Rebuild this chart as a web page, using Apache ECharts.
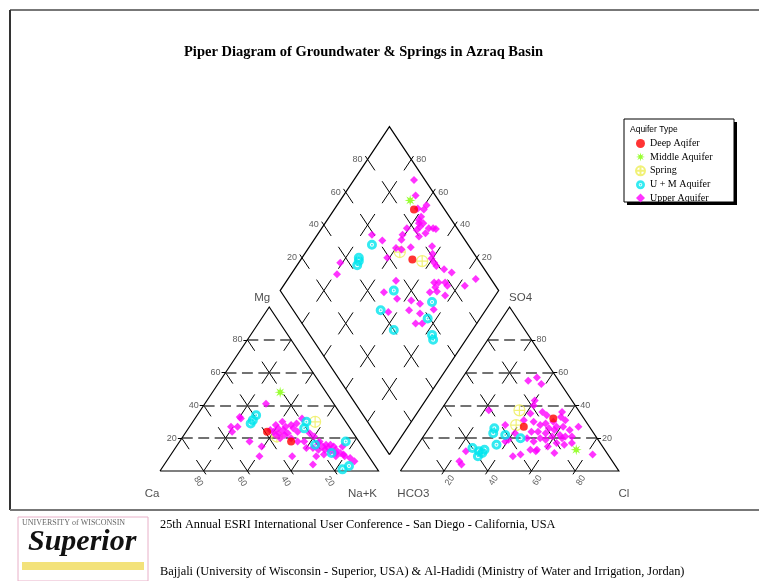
<!DOCTYPE html>
<html>
<head>
<meta charset="utf-8">
<script src="https://cdn.jsdelivr.net/npm/echarts@6/dist/echarts.min.js"></script>
<style>
  html, body { margin: 0; padding: 0; background: #fff; }
  #chart { width: 759px; height: 581px; }
</style>
</head>
<body>
<div id="chart"></div>
<script>
// ---- data (percent of meq) ----
// cation triangle: [Mg, Na+K]
var catDeep   = [[24, 37], [18, 51]];
var catMiddle = [[48, 31]];
var catSpring = [[30, 56], [21, 43]];
var catUM     = [[34, 27], [29, 27], [31, 27], [30, 52], [26, 53], [16, 63], [18, 76], [11, 73], [3, 85], [1, 83]];
var catUpper  = [[41, 28], [32, 21], [27, 22], [27, 19], [24, 21], [18, 32], [15, 39], [9, 41], [9, 56], [4, 68],
  [28, 39], [30, 41], [27, 44], [28, 46], [26, 48], [24, 40], [23, 43], [22, 46], [24, 51], [18, 54], [18, 57],
  [32, 49], [29, 48], [23, 57], [25, 38], [22, 42], [21, 60], [17, 64], [15, 67], [13, 69], [10, 70], [14, 70],
  [15, 72], [13, 74], [11, 77], [9, 76], [9, 80], [8, 83], [6, 86], [14, 60], [14, 63], [18, 64], [16, 68],
  [15, 76], [9, 67], [25, 44], [26, 41], [23, 47], [20, 50], [20, 45], [12, 72], [11, 75], [16, 70], [13, 66],
  [10, 79], [33, 20]];

// anion triangle: [SO4, Cl]
var anDeep   = [[32, 54], [27, 43]];
var anMiddle = [[13, 74]];
var anSpring = [[37, 36], [28, 39]];
var anUM     = [[26, 30], [23, 31], [22, 37], [16, 36], [20, 45], [13, 32], [11, 32], [9, 31], [14, 26], [12, 30]];
var anUpper  = [[57, 34], [53, 38], [55, 31], [43, 40], [40, 41], [37, 22], [28, 34], [31, 41], [35, 42], [36, 47],
  [34, 50], [36, 56], [31, 60], [27, 68], [25, 65], [27, 61], [27, 58], [29, 52], [28, 50], [24, 51], [24, 48],
  [20, 48], [18, 52], [20, 54], [23, 55], [21, 59], [17, 63], [20, 64], [16, 67], [11, 65], [21, 65], [21, 68],
  [17, 70], [10, 83], [23, 41], [19, 40], [18, 39], [9, 47], [10, 50], [13, 53], [13, 56], [12, 24], [6, 24],
  [4, 26], [30, 46], [26, 55], [22, 62], [19, 57], [25, 58], [15, 60], [12, 56], [30, 55], [33, 57]];

// diamond: [Ca+Mg, SO4+Cl]
var diaDeep   = [[63.5, 86], [49, 70]];
var diaMiddle = [[68, 87]];
var diaSpring = [[57, 66.5], [44, 74]];
var diaUM     = [[72, 56], [74, 46], [72.5, 43], [73, 45], [48, 52], [48, 40], [36, 40], [27, 66], [24, 59], [17, 56], [15, 55]];
var diaUpper  = [[72.5, 95], [67, 91], [59, 93], [59, 90.5], [58, 87], [58, 85], [55, 86], [55.5, 83.5], [56, 81],
  [51, 87], [47.5, 90], [49, 89], [51, 84], [61, 77], [61, 73], [60, 71], [57, 68], [53.5, 73], [60, 66], [61, 59],
  [75, 59], [68.5, 62], [81, 36], [79, 31], [44, 83], [41.5, 81], [40.5, 79], [38, 79], [36, 79], [31.5, 81.5],
  [27, 84], [14, 93], [17, 86], [32, 73], [30, 75], [30, 72], [27, 78], [25, 78], [28, 71.5], [23, 74], [31, 68],
  [37, 57], [35, 53], [44, 51], [52, 47], [50, 56], [44, 43], [32, 60], [29, 57], [25, 55], [28, 52], [24, 64.5],
  [57, 84], [53, 80], [62, 88]];

var groups = ['Deep Aqifer', 'Middle Aquifer', 'Spring', 'U + M Aquifer', 'Upper Aquifer'];
var gridTicks = [20, 40, 60, 80];

// ---- geometry ----
var OX = 160, OY = 471, SX = 218.5, SY = 164, G = 0.1;
function dx(p) { return p / SX; }
function dy(p) { return -p / SY; }

function catXY(d) { return [d[1] / 100 + d[0] / 200, d[0] / 100]; }
function anXY(d) { return [1 + G + d[1] / 100 + d[0] / 200, d[0] / 100]; }
function diaXY(d) {
  var n = 1 - d[0] / 100, p = d[1] / 100;
  return [(n + 1 + G + p) / 2, 1 + G + p - n];
}
function pts(c, a, d) {
  return c.map(catXY).concat(a.map(anXY)).concat(d.map(diaXY));
}

// each grid cell edge starts and ends with a dash, so crossings look like X marks
function pxLen(a, b) { return Math.hypot((b[0] - a[0]) * SX, (b[1] - a[1]) * SY); }
function seg(a, b, color, width, nDash, gap) {
  var L = pxLen(a, b);
  var d = (L - (nDash - 1) * gap) / nDash;
  return { coords: [a, b], lineStyle: { color: color, width: width, type: [d, gap], opacity: 1 } };
}

var gridSegs = [];
function triGrid(ox) {
  var P = function (i, j) { return [ox + (i + j / 2) * 0.2, j * 0.2]; };
  for (var j = 0; j <= 5; j++) {
    for (var i = 0; i + j <= 5; i++) {
      if (j >= 1 && i + 1 + j <= 5) gridSegs.push(seg(P(i, j), P(i + 1, j), '#444', 1.5, 3, 5.5));
      if (i >= 1 && i + j + 1 <= 5) gridSegs.push(seg(P(i, j), P(i, j + 1), '#000', 1, 2, 13));
      if (i + j <= 3) gridSegs.push(seg(P(i + 1, j), P(i, j + 1), '#000', 1, 2, 13));
    }
  }
}
triGrid(0);
triGrid(1 + G);
var B = [1 + G / 2, G];
function D(a, b) { return [B[0] + (b - a) * 0.1, B[1] + (a + b) * 0.2]; }
for (var a = 0; a < 5; a++) {
  for (var b = 0; b < 5; b++) {
    if (a >= 1) gridSegs.push(seg(D(a, b), D(a, b + 1), '#000', 1, 2, 13));
    if (b >= 1) gridSegs.push(seg(D(a, b), D(a + 1, b), '#000', 1, 2, 13));
  }
}

var outlines = [
  { coords: [[0, 0], [1, 0], [0.5, 1], [0, 0]] },
  { coords: [[1 + G, 0], [2 + G, 0], [1.5 + G, 1], [1 + G, 0]] },
  { coords: [B, D(0, 5), D(5, 5), D(5, 0), B] }
];

// small ticks (4 px) pointing outward, and their labels
var ticks = [], tickLabels = [];
function unit(vx, vy, len) { // vx,vy in px, returns data vector of len px
  var m = Math.hypot(vx, vy);
  return [dx(vx / m * len), dy(vy / m * len)];
}
function addTick(p, vpx, vpy, text, label) {
  var u = unit(vpx, vpy, 4);
  ticks.push({ coords: [p, [p[0] + u[0], p[1] + u[1]]] });
  label.formatter = text;
  tickLabels.push({ value: p, label: label });
}
gridTicks.forEach(function (t) {
  var f = t / 100;
  addTick([f / 2, f], -1, 0, String(t), { position: 'left', distance: 5 });
  addTick([f, 0], 0.55, 0.82, String(100 - t), { position: 'inside', offset: [6, 10], rotate: -58 });
  addTick([1 + G + f, 0], -0.55, 0.82, String(t), { position: 'inside', offset: [-5, 10], rotate: 58 });
  addTick([2 + G - f / 2, f], 1, 0, String(t), { position: 'right', distance: 5 });
  addTick([0.5 + G / 2 + f / 2, 1 + G + f], -0.55, -0.82, String(t), { position: 'left', distance: 5 });
  addTick([1 + G / 2 + f / 2, 2 + G - f], 0.55, -0.82, String(100 - t), { position: 'right', distance: 5 });
});

var cornerLabels = [
  { value: [0.5, 1], label: { formatter: 'Mg', offset: [-7, -9] } },
  { value: [0, 0], label: { formatter: 'Ca', offset: [-8, 23] } },
  { value: [1, 0], label: { formatter: 'Na+K', offset: [-16, 23] } },
  { value: [1 + G, 0], label: { formatter: 'HCO3', offset: [13, 23] } },
  { value: [2 + G, 0], label: { formatter: 'Cl', offset: [5, 23] } },
  { value: [1.5 + G, 1], label: { formatter: 'SO4', offset: [11, -9] } }
];

// ---- symbols ----
var star = 'path://';
for (var k = 0; k < 16; k++) {
  var r = k % 2 ? 4 : 10, ang = k * Math.PI / 8 - Math.PI / 2;
  star += (k ? 'L' : 'M') + (r * Math.cos(ang)).toFixed(2) + ',' + (r * Math.sin(ang)).toFixed(2) + ' ';
}
star += 'Z';
var crossCircle = 'path://M10,0 A10,10 0 1,1 -10,0 A10,10 0 1,1 10,0 Z M0,-10 L0,10 M-10,0 L10,0';
var ring = 'path://M0,-10 A10,10 0 1,1 0,10 A10,10 0 1,1 0,-10 Z M0,-4 A4,4 0 1,0 0,4 A4,4 0 1,0 0,-4 Z M0,-2 A2,2 0 1,1 0,2 A2,2 0 1,1 0,-2 Z';

var chart = echarts.init(document.getElementById('chart'));
chart.setOption({
  animation: false,
  backgroundColor: '#fff',
  grid: { left: 0, right: 0, top: 0, bottom: 0 },
  xAxis: { type: 'value', min: -OX / SX, max: (759 - OX) / SX, show: false },
  yAxis: { type: 'value', min: (OY - 581) / SY, max: OY / SY, show: false },
  legend: {
    data: groups, orient: 'vertical', left: 635, top: 138.5, padding: 0,
    itemWidth: 9, itemHeight: 9, itemGap: 3.4,
    textStyle: { fontFamily: 'Liberation Serif', fontSize: 10, color: '#000', lineHeight: 10 }
  },
  graphic: [
    { type: 'line', shape: { x1: 10, y1: 10, x2: 759, y2: 10 }, style: { stroke: '#777', lineWidth: 2 } },
    { type: 'line', shape: { x1: 10, y1: 10, x2: 10, y2: 510 }, style: { stroke: '#333', lineWidth: 2 } },
    { type: 'line', shape: { x1: 10, y1: 510, x2: 759, y2: 510 }, style: { stroke: '#777', lineWidth: 2 } },
    { type: 'text', x: 363.5, y: 52, style: { text: 'Piper Diagram of Groundwater & Springs in Azraq Basin',
      font: 'bold 14.5px "Liberation Serif"', fill: '#000', align: 'center', verticalAlign: 'middle' } },
    { type: 'rect', shape: { x: 627, y: 122, width: 110, height: 83 }, style: { fill: '#000' } },
    { type: 'rect', shape: { x: 624, y: 119, width: 110, height: 83 }, style: { fill: '#fff', stroke: '#000', lineWidth: 1 } },
    { type: 'text', x: 630, y: 125, style: { text: 'Aquifer Type', font: '8.5px "Liberation Sans"', fill: '#000' } },
    // logo
    { type: 'rect', shape: { x: 18, y: 517, width: 130, height: 64 }, style: { fill: '#fff', stroke: '#e8b0c8', lineWidth: 1 } },
    { type: 'rect', shape: { x: 22, y: 562, width: 122, height: 8 }, style: { fill: '#f3e27a' } },
    { type: 'text', x: 22, y: 519, style: { text: 'UNIVERSITY of WISCONSIN', font: '8px "Liberation Serif"', fill: '#666' } },
    { type: 'text', x: 28, y: 527, style: { text: 'Superior', font: 'italic bold 30px "Liberation Serif"', fill: '#111' } },
    // footer
    { type: 'text', x: 160, y: 519, style: { text: '25th Annual ESRI International User Conference - San Diego - California, USA',
      font: '12.3px "Liberation Serif"', fill: '#000' } },
    { type: 'text', x: 160, y: 566, style: { text: 'Bajjali (University of Wisconsin - Superior, USA) & Al-Hadidi (Ministry of Water and Irrigation, Jordan)',
      font: '12.4px "Liberation Serif"', fill: '#000' } }
  ],
  series: [
    { type: 'lines', coordinateSystem: 'cartesian2d', silent: true, data: gridSegs, z: 1 },
    { type: 'lines', coordinateSystem: 'cartesian2d', silent: true, polyline: true, data: outlines,
      lineStyle: { color: '#000', width: 1.2, type: 'solid', opacity: 1 }, z: 1 },
    { type: 'lines', coordinateSystem: 'cartesian2d', silent: true, data: ticks,
      lineStyle: { color: '#000', width: 1, type: 'solid', opacity: 1 }, z: 1 },
    { type: 'scatter', silent: true, symbolSize: 0, data: tickLabels, z: 1,
      label: { show: true, fontFamily: 'Liberation Sans', fontSize: 9, color: '#333' } },
    { type: 'scatter', silent: true, symbolSize: 0, data: cornerLabels, z: 1,
      label: { show: true, position: 'inside', fontFamily: 'Liberation Sans', fontSize: 11.5, color: '#222' } },
    { name: 'Spring', type: 'scatter', symbol: crossCircle, symbolSize: 11, z: 3,
      itemStyle: { color: 'rgba(255,255,255,0)', borderColor: '#eeee55', borderWidth: 1.2 },
      data: pts(catSpring, anSpring, diaSpring) },
    { name: 'Upper Aquifer', type: 'scatter', symbol: 'diamond', symbolSize: 8, z: 3,
      itemStyle: { color: '#ff00ff' }, data: pts(catUpper, anUpper, diaUpper) },
    { name: 'U + M Aquifer', type: 'scatter', symbol: ring, symbolSize: 10, z: 3,
      itemStyle: { color: '#00e5ee' }, data: pts(catUM, anUM, diaUM) },
    { name: 'Middle Aquifer', type: 'scatter', symbol: star, symbolSize: 11, z: 3,
      itemStyle: { color: '#80ff00' }, data: pts(catMiddle, anMiddle, diaMiddle) },
    { name: 'Deep Aqifer', type: 'scatter', symbol: 'circle', symbolSize: 8, z: 3,
      itemStyle: { color: '#ff0000' }, data: pts(catDeep, anDeep, diaDeep) }
  ]
});
</script>
</body>
</html>
